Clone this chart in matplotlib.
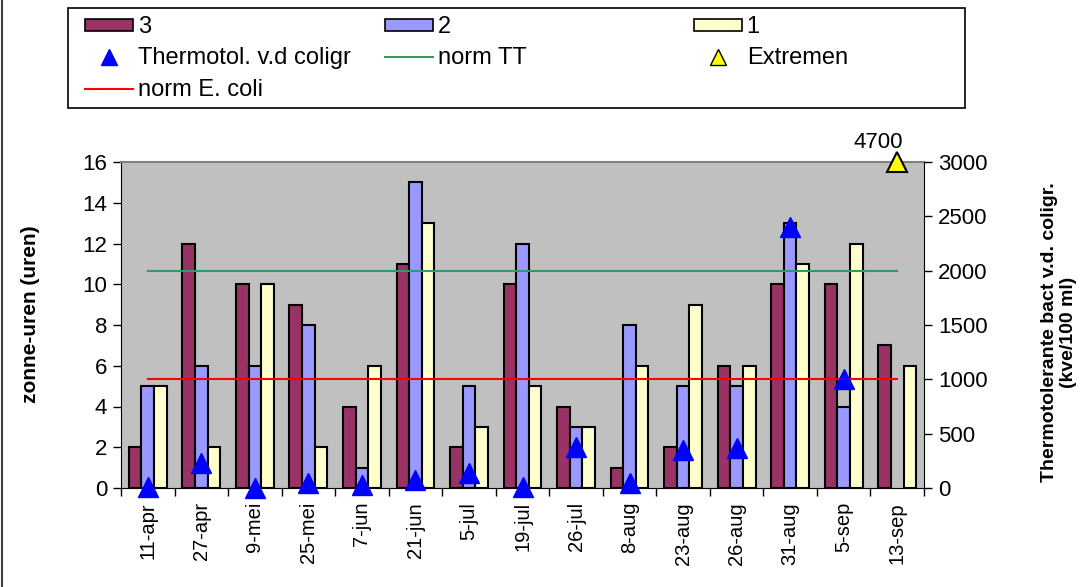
import numpy as np
import matplotlib
matplotlib.use("Agg")
import matplotlib.pyplot as plt
from matplotlib.lines import Line2D
from matplotlib.patches import Patch, Rectangle

plt.rcParams['font.family'] = ['Liberation Sans', 'DejaVu Sans']

categories = ["11-apr", "27-apr", "9-mei", "25-mei", "7-jun", "21-jun", "5-jul", "19-jul",
              "26-jul", "8-aug", "23-aug", "26-aug", "31-aug", "5-sep", "13-sep"]
series3 = [2, 12, 10, 9, 4, 11, 2, 10, 4, 1, 2, 6, 10, 10, 7]
series2 = [5, 6, 6, 8, 1, 15, 5, 12, 3, 8, 5, 5, 13, 4, np.nan]
series1 = [5, 2, 10, 2, 6, 13, 3, 5, 3, 6, 9, 6, 11, 12, 6]
thermotol = [10, 230, 0, 50, 30, 75, 140, 10, 380, 50, 350, 370, 2400, 1000, np.nan]
extremen = [np.nan] * 14 + [3000]
extremen_label = "4700"
norm_tt = 2000
norm_ecoli = 1000

fig = plt.figure(figsize=(10.89, 5.87), dpi=100)
W, H = 1089, 587
ax = fig.add_axes([121 / W, 1 - 488 / H, (924 - 121) / W, (488 - 162) / H])
ax.set_facecolor('#C0C0C0')

n = len(categories)
x = np.arange(n)
bw = 0.235
kw = dict(edgecolor='black', linewidth=1.5, zorder=2)
ax.bar(x - bw, series3, bw, color='#993366', **kw)
ax.bar(x, series2, bw, color='#9999FF', **kw)
ax.bar(x + bw, series1, bw, color='#FFFFCC', **kw)

ax.set_xlim(-0.5, n - 0.5)
ax.set_ylim(0, 16)
ax.set_yticks(np.arange(0, 17, 2))
ax.set_xticks(np.arange(-0.5, n, 1), minor=False)
ax.set_xticklabels([])
ax.set_xticks(x, minor=True)
ax.set_xticklabels(categories, minor=True, rotation=90, fontsize=14.5)
ax.tick_params(axis='x', which='minor', length=0, pad=10)
ax.tick_params(axis='x', which='major', length=6, direction='out', width=1)
ax.tick_params(axis='y', length=6, direction='out', labelsize=16, width=1, pad=4)
for s in ['left', 'bottom']:
    ax.spines[s].set_color('black')
ax.spines['top'].set_color('#808080')
ax.spines['top'].set_linewidth(1.5)
ax.spines['right'].set_visible(False)

ax2 = ax.twinx()
ax2.set_ylim(0, 3000)
ax2.set_yticks(np.arange(0, 3001, 500))
ax2.tick_params(axis='y', length=6, direction='out', labelsize=16, width=1, pad=4)
ax2.spines['right'].set_color('black')
ax2.spines['top'].set_visible(False)
ax2.spines['left'].set_visible(False)
ax2.spines['bottom'].set_visible(False)

fig.text(31 / W, 1 - 314 / H, "zonne-uren (uren)", rotation=90, ha='center', va='center',
         fontsize=15, fontweight='bold')
fig.text(1059 / W, 1 - 332 / H, "Thermotolerante bact v.d. coligr.\n(kve/100 ml)", rotation=90,
         ha='center', va='center', multialignment='center', fontsize=14, fontweight='bold',
         linespacing=1.1)

ax2.plot([x[0], x[-1]], [norm_tt, norm_tt], color='#339966', linewidth=1.5, zorder=3)
ax2.plot([x[0], x[-1]], [norm_ecoli, norm_ecoli], color='#FF0000', linewidth=1.5, zorder=3)
ax2.plot(x, thermotol, linestyle='none', marker='^', markersize=14, color='#0000FF',
         markeredgecolor='#0000FF', clip_on=False, zorder=4)
ax2.plot(x, extremen, linestyle='none', marker='^', markersize=14, color='#FFFF00',
         markeredgecolor='black', markeredgewidth=1.5, clip_on=False, zorder=4)
ax2.annotate(extremen_label, (x[-1], extremen[-1]), xytext=(-14, 6.5), textcoords='offset points',
             ha='center', va='bottom', fontsize=16)

# Legend box
fig.patches.append(Rectangle((68 / W, 1 - 108 / H), (965 - 68) / W, (108 - 8) / H,
                             transform=fig.transFigure, facecolor='white',
                             edgecolor='black', linewidth=1.2, zorder=0))
# Left border
fig.add_artist(Line2D([2 / W, 2 / W], [0, 1], transform=fig.transFigure, color='#404040', linewidth=1.5))

h3 = Patch(facecolor='#993366', edgecolor='black', linewidth=1.2)
h2 = Patch(facecolor='#9999FF', edgecolor='black', linewidth=1.2)
h1 = Patch(facecolor='#FFFFCC', edgecolor='black', linewidth=1.2)
ht = Line2D([], [], linestyle='none', marker='^', markersize=12, color='#0000FF')
hnt = Line2D([], [], color='#339966', linewidth=1.5)
hne = Line2D([], [], color='#FF0000', linewidth=1.5)
hx = Line2D([], [], linestyle='none', marker='^', markersize=11, color='#FFFF00',
            markeredgecolor='black')

lkw = dict(frameon=False, loc='upper left', fontsize=17, handlelength=2.03, handleheight=0.4,
           handletextpad=0.2, labelspacing=0.4, borderaxespad=0, borderpad=0)
fig.legend([h3, ht, hne], ["3", "Thermotol. v.d coligr", "norm E. coli"],
           bbox_to_anchor=(85 / W, 1 - 16 / H), **lkw)
fig.legend([h2, hnt], ["2", "norm TT"], bbox_to_anchor=(385 / W, 1 - 16 / H), **lkw)
fig.legend([h1, hx], ["1", "Extremen"], bbox_to_anchor=(694 / W, 1 - 16 / H), **lkw)

fig.savefig("out.png", dpi=100)
